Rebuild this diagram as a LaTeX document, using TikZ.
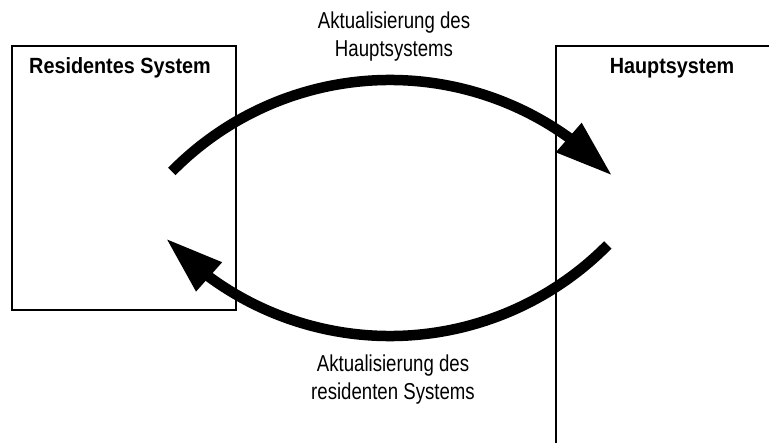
\documentclass[tikz,border=0pt]{standalone}
\usepackage{fontspec}
\setmainfont{Liberation Sans}
\newfontfamily\flowfont{Liberation Sans}[FakeStretch=0.81]
\newfontfamily\titlefont{Liberation Sans}[FakeStretch=0.9]
\usetikzlibrary{arrows.meta, bending}

\begin{document}
\begin{tikzpicture}[x=1pt, y=1pt,
        sysbox/.style={draw, line width=1.6pt, inner sep=0pt},
        title/.style={font=\titlefont\bfseries\fontsize{22}{26}\selectfont, anchor=base, inner sep=0pt},
        flowlabel/.style={font=\flowfont\fontsize{23}{28}\selectfont, align=center, anchor=base, inner sep=0pt},
        flow/.style={line width=10.5pt, -{Triangle[length=58pt, width=36pt, flex]}}]
        \clip (0,0) rectangle (769,443);
        % the two systems
        \node[sysbox, minimum width=224pt, minimum height=264pt] (res) at (124,265) {};
        \node[sysbox, minimum width=260pt, minimum height=440pt] (main) at (686,177) {};
        \node[title] (restitle) at (120,369) {Residentes System};
        \node[title] (maintitle) at (672,369) {Hauptsystem};
        
        % update arcs between them
        \coordinate (upstart) at (171.8,271.5);
        \coordinate (downstart) at (607.8,198.1);
        \draw[flow] (upstart) arc[start angle=135.5, end angle=43.4, radius=306];
        \draw[flow] (downstart) arc[start angle=-44.6, end angle=-137.1, radius=306];
        
        % base sits on the last line
        \node[flowlabel] (uplabel) at (394,386) {Aktualisierung des\\Hauptsystems};
        \node[flowlabel] (downlabel) at (393,43) {Aktualisierung des\\residenten Systems};
    \end{tikzpicture}
\end{document}
